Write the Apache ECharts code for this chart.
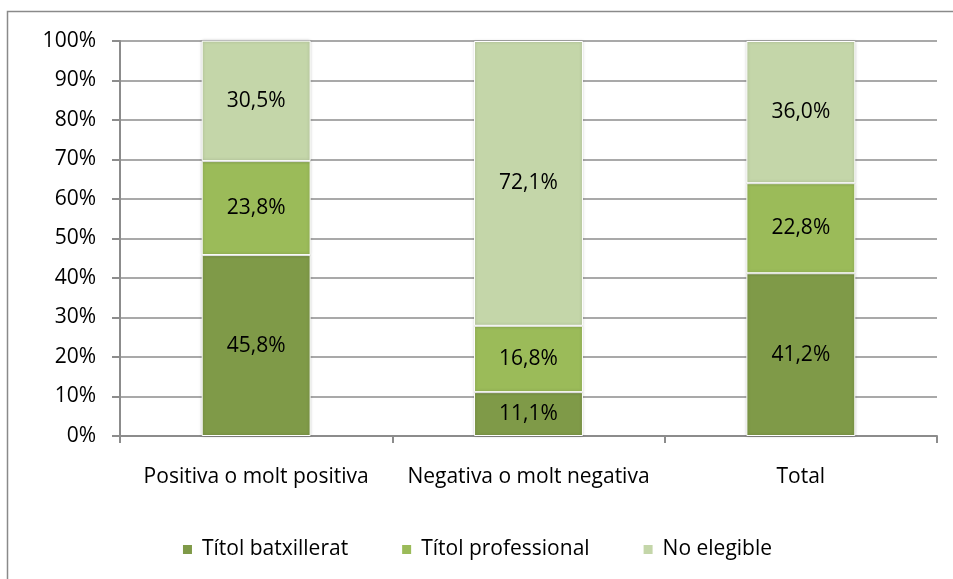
<!DOCTYPE html>
<html>
<head>
<meta charset="utf-8">
<script src="https://cdn.jsdelivr.net/npm/echarts@6/dist/echarts.min.js"></script>
<style>
  html, body { margin: 0; padding: 0; background: #fff; }
  #chart { width: 953px; height: 579px; }
</style>
</head>
<body>
<div id="chart"></div>
<script>
// dades del gràfic
var categories = ['Positiva o molt positiva', 'Negativa o molt negativa', 'Total'];
var titolBatxillerat = [45.8, 11.1, 41.2];
var titolProfessional = [23.8, 16.8, 22.8];
var noElegible = [30.5, 72.1, 36.0];
var yTicks = [0, 10, 20, 30, 40, 50, 60, 70, 80, 90, 100];

var fontFam = '"Open Sans", "Liberation Sans", sans-serif';
var gridColor = '#8c8c8c';

var chartDom = document.getElementById('chart');
var myChart = echarts.init(chartDom);

function pct(v) {
	return v.toFixed(1).replace('.', ',') + '%';
}

function serie(name, data, color) {
	return {
		name: name,
		type: 'bar',
		stack: 'total',
		barWidth: '40%',
		data: data,
		itemStyle: {
			color: color,
			borderColor: '#ffffff',
			borderWidth: 1,
			shadowColor: 'rgba(0,0,0,0.25)',
			shadowBlur: 3
		},
		label: {
			show: true,
			position: 'inside',
			color: '#000',
			fontFamily: fontFam,
			fontSize: 21,
			formatter: function (p) { return pct(p.value); }
		}
	};
}

var option = {
	animation: false,
	graphic: [
		{
			type: 'rect',
			shape: { x: 7.5, y: 11.5, width: 1200, height: 1000 },
			style: { fill: 'none', stroke: '#8a8a8a', lineWidth: 1.5 },
			silent: true
		}
	],
	grid: {
		left: 120,
		right: 16,
		top: 41,
		bottom: 143
	},
	legend: {
		bottom: 14,
		left: 'center',
		itemWidth: 11,
		itemHeight: 11,
		itemGap: 52,
		icon: 'rect',
		textStyle: { fontFamily: fontFam, fontSize: 21, color: '#000', padding: [0, 0, 0, 4] },
		data: ['Títol batxillerat', 'Títol professional', 'No elegible']
	},
	xAxis: {
		type: 'category',
		data: categories,
		axisLine: { lineStyle: { color: gridColor, width: 2 } },
		axisTick: { show: true, length: 7, lineStyle: { color: gridColor, width: 2 } },
		axisLabel: {
			interval: 0,
			hideOverlap: false,
			fontFamily: fontFam,
			fontSize: 21,
			color: '#000',
			margin: 31
		}
	},
	yAxis: {
		type: 'value',
		min: 0,
		max: 100,
		interval: 10,
		axisLine: { show: true, lineStyle: { color: gridColor, width: 2 } },
		axisTick: { show: true, length: 8, lineStyle: { color: gridColor, width: 2 } },
		splitLine: { lineStyle: { color: gridColor, width: 1.5 } },
		axisLabel: {
			fontFamily: fontFam,
			fontSize: 21,
			color: '#000',
			margin: 24,
			formatter: function (v) { return yTicks.indexOf(v) >= 0 ? v + '%' : ''; }
		}
	},
	series: [
		serie('Títol batxillerat', titolBatxillerat, '#7f9a48'),
		serie('Títol professional', titolProfessional, '#9bbb59'),
		serie('No elegible', noElegible, '#c4d6a9')
	]
};

myChart.setOption(option);
</script>
</body>
</html>
